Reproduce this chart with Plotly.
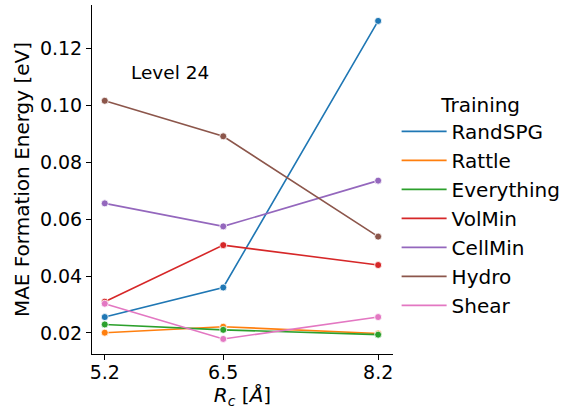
import plotly.graph_objects as go

rc = [5.2, 6.5, 8.2]
series_names = ["RandSPG", "Rattle", "Everything", "VolMin", "CellMin", "Hydro", "Shear"]
randspg = [0.0256, 0.0360, 0.1298]
rattle = [0.0201, 0.0222, 0.0198]
everything = [0.0230, 0.0211, 0.0194]
volmin = [0.0310, 0.0509, 0.0439]
cellmin = [0.0656, 0.0575, 0.0736]
hydro = [0.1017, 0.0892, 0.0539]
shear = [0.0303, 0.0179, 0.0256]
values = [randspg, rattle, everything, volmin, cellmin, hydro, shear]
colors = ["#1f77b4", "#ff7f0e", "#2ca02c", "#d62728", "#9467bd", "#8c564b", "#e377c2"]
x_ticks = [5.2, 6.5, 8.2]
y_ticks = [0.02, 0.04, 0.06, 0.08, 0.10, 0.12]

fig = go.Figure()
for name, vals, c in zip(series_names, values, colors):
    fig.add_trace(go.Scatter(
        x=rc, y=vals, mode="lines+markers", name=name, showlegend=False,
        line=dict(color=c, width=1.6),
        marker=dict(size=7, color=c, line=dict(color="white", width=0.8)),
    ))
for name, c in zip(series_names, colors):
    fig.add_trace(go.Scatter(
        x=[None], y=[None], mode="lines", name=name,
        line=dict(color=c, width=1.8),
    ))

font = "DejaVu Sans"
fig.add_annotation(x=5.47, y=0.1116, xref="x", yref="y", text="Level 24",
                   showarrow=False, xanchor="left", yanchor="middle",
                   font=dict(family=font, size=18.5, color="black"))

fig.update_layout(
    width=571, height=414,
    margin=dict(l=92, r=176, t=5, b=60),
    paper_bgcolor="white", plot_bgcolor="white",
    font=dict(family=font, size=19, color="black"),
    legend=dict(
        x=1.012, xanchor="left", y=0.768, yanchor="top",
        title=dict(text="Training", side="top center", font=dict(size=20)),
        font=dict(size=20), bgcolor="rgba(0,0,0,0)", tracegroupgap=0,
        itemwidth=45,
    ),
    xaxis=dict(
        range=[5.06, 8.363], tickvals=x_ticks, ticktext=[str(v) for v in x_ticks],
        showgrid=False, zeroline=False, showline=True, linecolor="black", linewidth=1,
        ticks="outside", ticklen=5, tickcolor="black", ticklabelstandoff=-4,
        title=dict(text="<i>R</i><sub><i>c</i></sub> [<i>Å</i>]", font=dict(size=20), standoff=0),
        tickfont=dict(size=19),
    ),
    yaxis=dict(
        range=[0.0126, 0.1354], tickvals=y_ticks, ticktext=["%.2f" % v for v in y_ticks],
        showgrid=False, zeroline=False, showline=True, linecolor="black", linewidth=1,
        ticks="outside", ticklen=5, tickcolor="black",
        title=dict(text="MAE Formation Energy [eV]", font=dict(size=20), standoff=4),
        tickfont=dict(size=19),
    ),
)
fig.write_html("out.html")
